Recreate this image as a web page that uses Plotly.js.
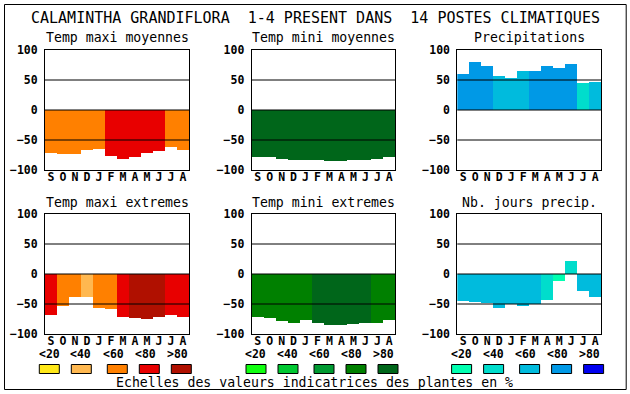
<!DOCTYPE html>
<html>
<head>
<meta charset="utf-8">
<script src="https://cdn.plot.ly/plotly-3.0.1.min.js"></script>
<style>
html,body{margin:0;padding:0;background:#fff;}
#chart{width:630px;height:394px;}
</style>
</head>
<body>
<div id="chart"></div>
<script>
// ---------- data ----------
const months = ['S','O','N','D','J','F','M','A','M','J','J','A'];
const yTickVals = [-100,-50,0,50,100];
const refLines = [50,0,-50];
const legendLabels = ['<20','<40','<60','<80','>80'];

const chartTitle = 'CALAMINTHA GRANDIFLORA  1-4 PRESENT DANS  14 POSTES CLIMATIQUES';
const footerText = 'Echelles des valeurs indicatrices des plantes en %';
const panelTitles = ['Temp maxi moyennes','Temp mini moyennes','Precipitations',
                     'Temp maxi extremes','Temp mini extremes','Nb. jours precip.'];

// palettes (class 0..4 = <20, <40, <60, <80, >80)
const maxiColors   = ['#FFE818','#FFB850','#FF8000','#E80000','#B01000'];
const miniColors   = ['#10FF10','#00C832','#009A32','#008000','#00661A'];
const precipColors = ['#00FFB0','#00DDCC','#00BBDD','#0099E6','#0000F0'];

// Temp maxi moyennes
const maxiMoyVals  = [-72,-73,-73,-67,-65,-76,-82,-78,-72,-68,-62,-67];
const maxiMoyClass = [2,2,2,2,2,3,3,3,3,3,2,2];
// Temp mini moyennes
const miniMoyVals  = [-78,-78,-82,-83,-83,-83,-85,-85,-83,-83,-82,-78];
const miniMoyClass = [4,4,4,4,4,4,4,4,4,4,4,4];
// Precipitations
const precipVals   = [60,80,73,57,53,65,65,73,70,77,45,47];
const precipClass  = [3,3,3,2,2,2,3,3,3,3,1,2];
// Temp maxi extremes
const maxiExtVals  = [-68,-53,-38,-38,-57,-58,-72,-73,-75,-72,-68,-72];
const maxiExtClass = [3,2,2,1,2,2,3,4,4,4,3,3];
// Temp mini extremes
const miniExtVals  = [-72,-73,-78,-82,-77,-82,-85,-85,-83,-82,-82,-77];
const miniExtClass = [3,3,3,3,3,4,4,4,4,4,3,3];
// Nb. jours precip.
const joursVals    = [-45,-47,-48,-57,-50,-53,-50,-43,-12,22,-28,-38];
const joursClass   = [2,2,2,2,2,2,2,1,0,1,2,2];

// ---------- layout helpers ----------
const W = 630, H = 394;
const px = v => v / W;
const py = v => 1 - v / H;

const colX = [[45,189],[251.7,395.3],[457.3,601.3]];
const rowY = [[50,170],[214,334]];

const panels = [
  {vals:maxiMoyVals, cls:maxiMoyClass, pal:maxiColors,   col:0,row:0},
  {vals:miniMoyVals, cls:miniMoyClass, pal:miniColors,   col:1,row:0},
  {vals:precipVals,  cls:precipClass,  pal:precipColors, col:2,row:0},
  {vals:maxiExtVals, cls:maxiExtClass, pal:maxiColors,   col:0,row:1},
  {vals:miniExtVals, cls:miniExtClass, pal:miniColors,   col:1,row:1},
  {vals:joursVals,   cls:joursClass,   pal:precipColors, col:2,row:1}
];

const mono = 'DejaVu Sans Mono, Liberation Mono, monospace';
const xIdx = months.map((m,i)=>i);

const traces = [];
const layout = {
  width: W, height: H,
  margin: {l:0,r:0,t:0,b:0},
  paper_bgcolor: '#fff', plot_bgcolor: '#fff',
  showlegend: false,
  bargap: 0,
  font: {family: mono, color: '#000'},
  shapes: [], annotations: []
};

panels.forEach((p, k) => {
  const n = k + 1;
  const xa = 'x' + (n === 1 ? '' : n), ya = 'y' + (n === 1 ? '' : n);
  traces.push({
    type: 'bar',
    x: xIdx,
    y: p.vals,
    width: 1,
    marker: {color: p.cls.map(c => p.pal[c]), line: {width: 0}},
    xaxis: xa, yaxis: ya,
    hoverinfo: 'none'
  });
  const [x0, x1] = colX[p.col];
  const [y0, y1] = rowY[p.row];
  layout['xaxis' + (n === 1 ? '' : n)] = {
    domain: [px(x0), px(x1)], anchor: ya,
    range: [-0.5, 11.5], tickmode: 'array', tickvals: xIdx, ticktext: months,
    showgrid: false, zeroline: false, showline: true, mirror: true,
    linecolor: '#000', linewidth: 1, ticks: '', ticklabelstandoff: -4,
    tickfont: {family: mono, size: 11.5, weight: 'bold', color: '#000'},
    fixedrange: true
  };
  layout['yaxis' + (n === 1 ? '' : n)] = {
    domain: [py(y1), py(y0)], anchor: xa,
    range: [-100, 100], tickmode: 'array', tickvals: yTickVals,
    showgrid: false, zeroline: false, showline: true, mirror: true,
    linecolor: '#000', linewidth: 1, ticks: '', ticklabelstandoff: 4,
    tickfont: {family: mono, size: 11.5, weight: 'bold', color: '#000'},
    fixedrange: true
  };
  refLines.forEach(v => {
    layout.shapes.push({
      type: 'line', layer: 'above',
      xref: xa + ' domain', yref: ya, x0: 0, x1: 1, y0: v, y1: v,
      line: {color: '#000', width: 1}
    });
  });
  // panel title
  layout.annotations.push({
    xref: 'paper', yref: 'paper', x: px((x0 + x1) / 2), y: py(y0 - 12),
    xanchor: 'center', yanchor: 'middle', showarrow: false,
    text: panelTitles[k], font: {family: mono, size: 13.2, color: '#000'}
  });
  // legend (bottom row only)
  if (p.row === 1) {
    const labOff = [4,36,68,100,132];
    const boxOff = [4.3,36.3,72.3,104.3,136.3];
    legendLabels.forEach((lab, i) => {
      layout.annotations.push({
        xref: 'paper', yref: 'paper', x: px(x0 + labOff[i]), y: py(354),
        xanchor: 'center', yanchor: 'middle', showarrow: false,
        text: lab, font: {family: mono, size: 11.5, weight: 'bold', color: '#000'}
      });
      layout.shapes.push({
        type: 'rect', xref: 'paper', yref: 'paper',
        x0: px(x0 + boxOff[i] - 10), x1: px(x0 + boxOff[i] + 10),
        y0: py(373.5), y1: py(364.5),
        fillcolor: p.pal[i], line: {color: '#000', width: 1}
      });
    });
  }
});

// outer frame
layout.shapes.push({
  type: 'rect', xref: 'paper', yref: 'paper',
  x0: px(4.5), x1: px(626.2), y0: py(389.5), y1: py(4.5),
  line: {color: '#000', width: 1}, fillcolor: 'rgba(0,0,0,0)'
});
// main title
layout.annotations.push({
  xref: 'paper', yref: 'paper', x: px(315), y: py(18),
  xanchor: 'center', yanchor: 'middle', showarrow: false,
  text: chartTitle, font: {family: mono, size: 15, color: '#000'}
});
// footer
layout.annotations.push({
  xref: 'paper', yref: 'paper', x: px(314.5), y: py(382),
  xanchor: 'center', yanchor: 'middle', showarrow: false,
  text: footerText, font: {family: mono, size: 13.2, color: '#000'}
});

Plotly.newPlot('chart', traces, layout, {staticPlot: true, displayModeBar: false});
</script>
</body>
</html>
